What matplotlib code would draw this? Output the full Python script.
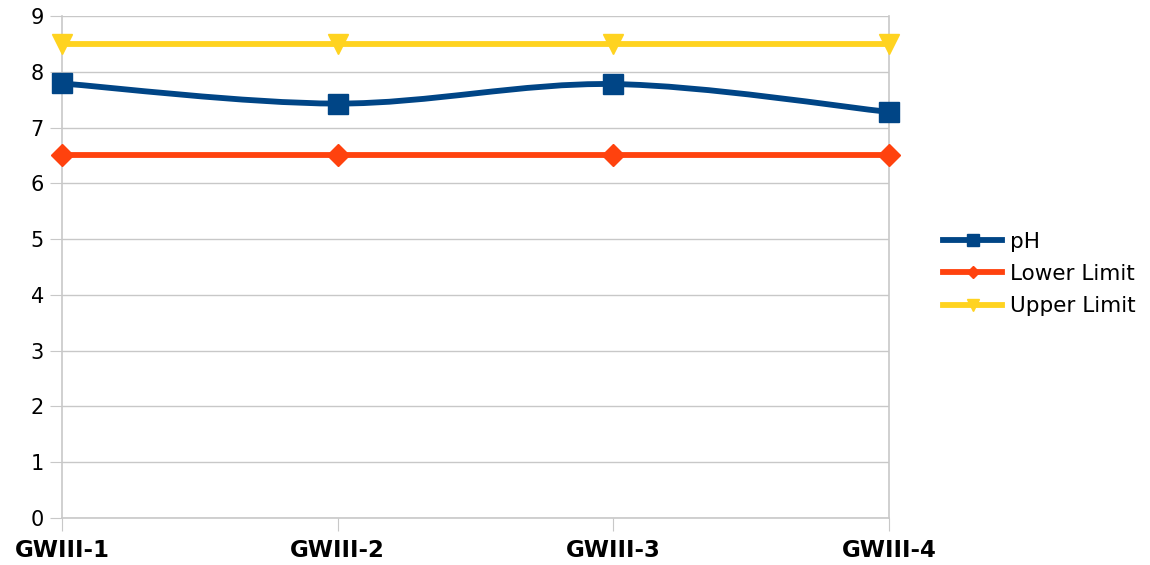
import matplotlib
matplotlib.use("Agg")
import matplotlib.pyplot as plt
import numpy as np
from matplotlib.lines import Line2D
from matplotlib.path import Path
from matplotlib.patches import PathPatch

plt.rcParams["font.family"] = ["DejaVu Sans"]

sites = ["GWIII-1", "GWIII-2", "GWIII-3", "GWIII-4"]
ph = [7.79, 7.43, 7.78, 7.28]
lower_limit = [6.5, 6.5, 6.5, 6.5]
upper_limit = [8.5, 8.5, 8.5, 8.5]

BLUE = "#004586"
ORANGE = "#ff420e"
YELLOW = "#ffd320"
GRID = "#c8c8c8"

fig = plt.figure(figsize=(11.5, 5.65), dpi=100, facecolor="white")
ax = fig.add_axes([62 / 1150, 1 - 518 / 565, (889 - 62) / 1150, (518 - 16) / 565])

x = np.arange(len(sites))

# smooth (Catmull-Rom -> Bezier) path for pH, like the spreadsheet's spline
y = np.array(ph)
verts = [(x[0], y[0])]
codes = [Path.MOVETO]
for i in range(len(x) - 1):
    p0 = np.array([x[max(i - 1, 0)], y[max(i - 1, 0)]])
    p1 = np.array([x[i], y[i]])
    p2 = np.array([x[i + 1], y[i + 1]])
    p3 = np.array([x[min(i + 2, len(x) - 1)], y[min(i + 2, len(x) - 1)]])
    c1 = p1 + (p2 - p0) / 6
    c2 = p2 - (p3 - p1) / 6
    verts += [tuple(c1), tuple(c2), tuple(p2)]
    codes += [Path.CURVE4] * 3
ax.add_patch(PathPatch(Path(verts, codes), facecolor="none", edgecolor=BLUE,
                       linewidth=4.2, zorder=3))
ax.plot(x, ph, linestyle="none", marker="s", markersize=14, color=BLUE,
        zorder=4, clip_on=False)

ax.plot(x, lower_limit, color=ORANGE, linewidth=4.2, marker="D",
        markersize=11, zorder=3, clip_on=False)
ax.plot(x, upper_limit, color=YELLOW, linewidth=4.2, marker="v",
        markersize=14, zorder=3, clip_on=False)

ax.set_xlim(0, 3)
ax.set_ylim(0, 9)
ax.set_yticks(range(10))
ax.set_xticks(x, sites)
ax.yaxis.grid(True, color=GRID, linewidth=1)
ax.set_axisbelow(True)
ax.spines["top"].set_visible(False)
for side in ("left", "right", "bottom"):
    ax.spines[side].set_color(GRID)
    ax.spines[side].set_linewidth(1.2)
ax.tick_params(axis="y", length=9, color=GRID, labelsize=15, pad=4)
ax.tick_params(axis="x", length=9, color=GRID, labelsize=16.5, pad=6)
for lab in ax.get_xticklabels():
    lab.set_fontweight("bold")

handles = [
    Line2D([], [], color=BLUE, linewidth=4.2, marker="s", markersize=8.5),
    Line2D([], [], color=ORANGE, linewidth=4.2, marker="D", markersize=6.5),
    Line2D([], [], color=YELLOW, linewidth=4.2, marker="v", markersize=9),
]
fig.legend(handles, ["pH", "Lower Limit", "Upper Limit"],
           loc="center left", bbox_to_anchor=(943 / 1150, 1 - 274 / 565),
           frameon=False, fontsize=15.5, handlelength=2.75, handletextpad=0.38,
           labelspacing=0.58, borderpad=0, borderaxespad=0)

fig.savefig("out.png", dpi=100, facecolor="white")
